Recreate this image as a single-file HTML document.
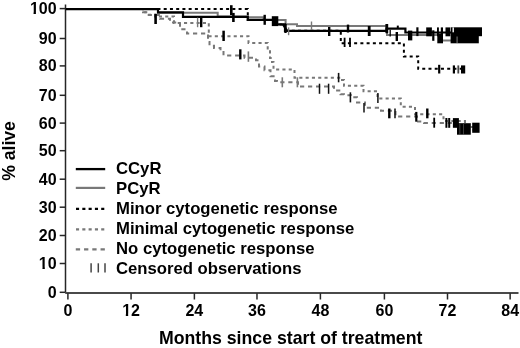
<!DOCTYPE html>
<html><head><meta charset="utf-8"><style>
html,body{margin:0;padding:0;background:#fff;width:520px;height:348px;overflow:hidden}
svg{display:block;will-change:transform}
</style></head><body>
<svg width="520" height="348" viewBox="0 0 520 348">
<rect width="520" height="348" fill="#fff"/>
<path d="M65.5,4.6 V292.6" stroke="#262626" stroke-width="1.5" fill="none"/>
<path d="M65.2,292.95 H518.5" stroke="#4a4a4a" stroke-width="2" fill="none"/>
<path d="M59.7,292.30 H65.4" stroke="#262626" stroke-width="1.5"/>
<text x="56.6" y="297.80" text-anchor="end" font-family='"Liberation Sans", sans-serif' font-weight="bold" font-size="16" fill="#000">0</text>
<path d="M59.7,263.50 H65.4" stroke="#262626" stroke-width="1.5"/>
<text x="56.6" y="269.00" text-anchor="end" font-family='"Liberation Sans", sans-serif' font-weight="bold" font-size="16" fill="#000">10</text>
<path d="M59.7,235.50 H65.4" stroke="#262626" stroke-width="1.5"/>
<text x="56.6" y="241.00" text-anchor="end" font-family='"Liberation Sans", sans-serif' font-weight="bold" font-size="16" fill="#000">20</text>
<path d="M59.7,207.20 H65.4" stroke="#262626" stroke-width="1.5"/>
<text x="56.6" y="212.70" text-anchor="end" font-family='"Liberation Sans", sans-serif' font-weight="bold" font-size="16" fill="#000">30</text>
<path d="M59.7,179.20 H65.4" stroke="#262626" stroke-width="1.5"/>
<text x="56.6" y="184.70" text-anchor="end" font-family='"Liberation Sans", sans-serif' font-weight="bold" font-size="16" fill="#000">40</text>
<path d="M59.7,150.70 H65.4" stroke="#262626" stroke-width="1.5"/>
<text x="56.6" y="156.20" text-anchor="end" font-family='"Liberation Sans", sans-serif' font-weight="bold" font-size="16" fill="#000">50</text>
<path d="M59.7,123.10 H65.4" stroke="#262626" stroke-width="1.5"/>
<text x="56.6" y="128.60" text-anchor="end" font-family='"Liberation Sans", sans-serif' font-weight="bold" font-size="16" fill="#000">60</text>
<path d="M59.7,95.30 H65.4" stroke="#262626" stroke-width="1.5"/>
<text x="56.6" y="100.80" text-anchor="end" font-family='"Liberation Sans", sans-serif' font-weight="bold" font-size="16" fill="#000">70</text>
<path d="M59.7,65.90 H65.4" stroke="#262626" stroke-width="1.5"/>
<text x="56.6" y="71.40" text-anchor="end" font-family='"Liberation Sans", sans-serif' font-weight="bold" font-size="16" fill="#000">80</text>
<path d="M59.7,38.50 H65.4" stroke="#262626" stroke-width="1.5"/>
<text x="56.6" y="44.00" text-anchor="end" font-family='"Liberation Sans", sans-serif' font-weight="bold" font-size="16" fill="#000">90</text>
<path d="M59.7,8.60 H65.4" stroke="#262626" stroke-width="1.5"/>
<text x="56.6" y="14.10" text-anchor="end" font-family='"Liberation Sans", sans-serif' font-weight="bold" font-size="16" fill="#000">100</text>
<path d="M67.90,293.2 V299.5" stroke="#262626" stroke-width="1.5"/>
<text x="67.90" y="315.9" text-anchor="middle" font-family='"Liberation Sans", sans-serif' font-weight="bold" font-size="16" fill="#000">0</text>
<path d="M131.06,293.2 V299.5" stroke="#262626" stroke-width="1.5"/>
<text x="131.06" y="315.9" text-anchor="middle" font-family='"Liberation Sans", sans-serif' font-weight="bold" font-size="16" fill="#000">12</text>
<path d="M194.38,293.2 V299.5" stroke="#262626" stroke-width="1.5"/>
<text x="194.38" y="315.9" text-anchor="middle" font-family='"Liberation Sans", sans-serif' font-weight="bold" font-size="16" fill="#000">24</text>
<path d="M256.98,293.2 V299.5" stroke="#262626" stroke-width="1.5"/>
<text x="256.98" y="315.9" text-anchor="middle" font-family='"Liberation Sans", sans-serif' font-weight="bold" font-size="16" fill="#000">36</text>
<path d="M320.40,293.2 V299.5" stroke="#262626" stroke-width="1.5"/>
<text x="320.40" y="315.9" text-anchor="middle" font-family='"Liberation Sans", sans-serif' font-weight="bold" font-size="16" fill="#000">48</text>
<path d="M384.40,293.2 V299.5" stroke="#262626" stroke-width="1.5"/>
<text x="384.40" y="315.9" text-anchor="middle" font-family='"Liberation Sans", sans-serif' font-weight="bold" font-size="16" fill="#000">60</text>
<path d="M447.50,293.2 V299.5" stroke="#262626" stroke-width="1.5"/>
<text x="447.50" y="315.9" text-anchor="middle" font-family='"Liberation Sans", sans-serif' font-weight="bold" font-size="16" fill="#000">72</text>
<path d="M510.14,293.2 V299.5" stroke="#262626" stroke-width="1.5"/>
<text x="510.14" y="315.9" text-anchor="middle" font-family='"Liberation Sans", sans-serif' font-weight="bold" font-size="16" fill="#000">84</text>
<text x="159" y="344.2" font-family='"Liberation Sans", sans-serif' font-weight="bold" font-size="17.7" fill="#000">Months since start of treatment</text>
<text transform="translate(14.8,151) rotate(-90)" text-anchor="middle" font-family='"Liberation Sans", sans-serif' font-weight="bold" font-size="17.6" fill="#000">% alive</text>
<path d="M65.5,9.1 H143 V12.3 H147.5 V14.9 H160 V18.7 H170 V22.6 H180 V29.3 H187 V33.6 H208 V42 H209.5 V45.7 H214 V48 H220.5 V51 H223.5 V55.5 H244.5 V57.8 H256 V60.3 H259 V66.6 H264.5 V70.2 H270.5 V76.2 H275 V80.9 H277 V82.3 H298 V86.6 H334 V90.5 H340.5 V94.3 H344 V95.2 H351 V97.3 H357 V102.5 H365 V107.8 H381 V110.8 H395.5 V116.5 H417 V121.5 H424 V122.9 H452 V125 H460 V130 H478" stroke="#787878" stroke-width="2" fill="none" stroke-dasharray="4.2 3.8"/>
<path d="M65.5,9.1 H143 V12.3 H147.5 V14.7 H155 V16.5 H174 V22.9 H208.8 V36.2 H248.5 V42.9 H267.7 V50 H270 V58 H272 V62 H273.5 V69.4 H294.5 V77.7 H342 V80.1 H344 V85.8 H363.5 V91.3 H377.5 V98.5 H400.8 V106.7 H415 V114.3 H443.5 V121 H465 V127 H478" stroke="#787878" stroke-width="2" fill="none" stroke-dasharray="3.1 3.2"/>
<path d="M65.5,9.1 H158 V12.8 H217.7 V16.5 H248 V17.3 H263.6 V20.1 H285.6 V24.3 H297 V26.1 H387 V35.1 H440 V40.5 H478" stroke="#787878" stroke-width="2" fill="none"/>
<path d="M65.5,9.1 H247.8 V19.9 H275 V24.4 H285 V30.8 H340.8 V43.3 H403.9 V56.4 H418.2 V68.8 H465.8" stroke="#000" stroke-width="2" fill="none" stroke-dasharray="3.0 3.24" stroke-dashoffset="1.64"/>
<path d="M65.5,9.1 H158 V12.4 H183 V16.85 H247.8 V19.9 H275 V24.4 H285 V30.8 H386.5 V28.7 H405.4 V32.5 H482" stroke="#000" stroke-width="2.2" fill="none"/>
<path d="M282.8,24.2 L287.2,31" stroke="#000" stroke-width="2.2"/>
<path d="M155.6,13.8 V24" stroke="#000" stroke-width="2.6"/>
<path d="M197.6,17.6 V27.2" stroke="#787878" stroke-width="1.4"/>
<path d="M201.2,17.6 V27.2" stroke="#000" stroke-width="2.4"/>
<path d="M223.6,30.7 V41" stroke="#000" stroke-width="2.5"/>
<path d="M231.3,5.2 V15" stroke="#000" stroke-width="2.6"/>
<path d="M233.4,12.9 V22" stroke="#000" stroke-width="2.6"/>
<path d="M240.3,49.3 V59.4" stroke="#000" stroke-width="2.4"/>
<path d="M248.4,51.4 V61.8" stroke="#787878" stroke-width="1.6"/>
<path d="M264.7,14.8 V24.8" stroke="#000" stroke-width="2.4"/>
<path d="M285.5,24.0 V33.0" stroke="#000" stroke-width="2.4"/>
<path d="M288.6,27.4 V35.2" stroke="#787878" stroke-width="1.4"/>
<path d="M282.3,77.3 V87.3" stroke="#787878" stroke-width="1.6"/>
<path d="M297.4,77.3 V87.3" stroke="#787878" stroke-width="1.6"/>
<path d="M311.5,21.5 V30" stroke="#787878" stroke-width="1.4"/>
<path d="M319.5,83.7 V93.8" stroke="#111" stroke-width="1.5"/>
<path d="M328.6,83.7 V93.8" stroke="#111" stroke-width="1.5"/>
<path d="M329.2,27 V36" stroke="#000" stroke-width="2.4"/>
<path d="M338.6,72.9 V82.3" stroke="#111" stroke-width="1.6"/>
<path d="M344.6,37.7 V47" stroke="#000" stroke-width="1.8"/>
<path d="M350,37.7 V47" stroke="#000" stroke-width="1.8"/>
<path d="M348,24.6 V32.5" stroke="#000" stroke-width="2.4"/>
<path d="M350.4,92.3 V102.4" stroke="#111" stroke-width="1.6"/>
<path d="M364,103 V112.4" stroke="#111" stroke-width="1.5"/>
<path d="M369.2,26 V36" stroke="#000" stroke-width="2.8"/>
<path d="M377.9,93 V103" stroke="#111" stroke-width="1.5"/>
<path d="M386.8,24 V33.2" stroke="#000" stroke-width="2.8"/>
<path d="M389.3,108.5 V118.3" stroke="#000" stroke-width="2.4"/>
<path d="M395,108.5 V118.3" stroke="#111" stroke-width="1.5"/>
<path d="M390.2,29.7 V36.5" stroke="#000" stroke-width="1.3"/>
<path d="M396.8,32 V41" stroke="#000" stroke-width="2.4"/>
<path d="M397.8,25.6 V29" stroke="#000" stroke-width="2.0"/>
<path d="M416.3,111.9 V121.7" stroke="#000" stroke-width="2.2"/>
<path d="M417.4,27.3 V36.1" stroke="#000" stroke-width="2.2"/>
<path d="M427.3,108.5 V118.3" stroke="#000" stroke-width="2.4"/>
<path d="M434.2,117.7 V127.7" stroke="#000" stroke-width="1.8"/>
<path d="M439.2,64.8 V73.5" stroke="#000" stroke-width="2.2"/>
<path d="M446.4,118 V127.8" stroke="#000" stroke-width="2.0"/>
<path d="M449.2,118 V127.8" stroke="#000" stroke-width="2.0"/>
<path d="M453.9,65.4 V73.5" stroke="#000" stroke-width="2.2"/>
<path d="M458.3,65.4 V73.5" stroke="#444" stroke-width="1.8"/>
<rect x="271.8" y="16.2" width="6.50" height="9.90" fill="#000"/>
<rect x="408.0" y="30.6" width="4.30" height="9.80" fill="#000"/>
<rect x="426.2" y="27.4" width="5.70" height="8.90" fill="#000"/>
<rect x="432.2" y="30.3" width="2.20" height="10.50" fill="#000"/>
<rect x="437.0" y="27.4" width="1.90" height="8.90" fill="#000"/>
<rect x="440.8" y="27.4" width="2.20" height="8.90" fill="#000"/>
<rect x="437.3" y="33.5" width="5.70" height="9.80" fill="#000"/>
<rect x="445.5" y="27.4" width="4.50" height="8.90" fill="#000"/>
<rect x="450.6" y="27.3" width="31.40" height="8.90" fill="#000"/>
<rect x="450.6" y="33.0" width="28.20" height="10.30" fill="#000"/>
<rect x="452.9" y="118.1" width="6.00" height="9.70" fill="#000"/>
<rect x="457.0" y="123.2" width="13.80" height="11.50" fill="#000"/>
<rect x="472.2" y="122.7" width="7.40" height="10.10" fill="#000"/>
<rect x="461.0" y="65.4" width="4.20" height="8.10" fill="#000"/>
<text x="116" y="173.60" font-family='"Liberation Sans", sans-serif' font-weight="bold" font-size="16.7" fill="#000">CCyR</text>
<text x="116" y="193.74" font-family='"Liberation Sans", sans-serif' font-weight="bold" font-size="16.7" fill="#000">PCyR</text>
<text x="116" y="213.88" font-family='"Liberation Sans", sans-serif' font-weight="bold" font-size="16.7" fill="#000">Minor cytogenetic response</text>
<text x="116" y="234.02" font-family='"Liberation Sans", sans-serif' font-weight="bold" font-size="16.7" fill="#000">Minimal cytogenetic response</text>
<text x="116" y="254.16" font-family='"Liberation Sans", sans-serif' font-weight="bold" font-size="16.7" fill="#000">No cytogenetic response</text>
<text x="116" y="274.30" font-family='"Liberation Sans", sans-serif' font-weight="bold" font-size="16.7" fill="#000">Censored observations</text>
<path d="M75.8,169.1 H105.2" stroke="#000" stroke-width="2.3"/>
<path d="M75.8,187.9 H105.2" stroke="#787878" stroke-width="2.2"/>
<path d="M76,208.9 H105.2" stroke="#000" stroke-width="2.2" stroke-dasharray="3.1 3.2"/>
<path d="M76,229.4 H105.2" stroke="#787878" stroke-width="2.2" stroke-dasharray="3.1 3.2"/>
<path d="M75.8,249.4 H105.2" stroke="#787878" stroke-width="2.2" stroke-dasharray="4.3 3.95"/>
<path d="M91.1,263.3 V272.5" stroke="#444" stroke-width="1.5"/>
<path d="M98.3,263.3 V272.5" stroke="#444" stroke-width="1.5"/>
<path d="M105,263.3 V272.5" stroke="#444" stroke-width="1.5"/>
<rect x="38.90" y="266.90" width="3.55" height="2.6" fill="#fff"/>
<rect x="44.82" y="266.90" width="2.95" height="2.6" fill="#fff"/>
<rect x="30.00" y="12.00" width="3.55" height="2.6" fill="#fff"/>
<rect x="35.92" y="12.00" width="2.95" height="2.6" fill="#fff"/>
<rect x="122.26" y="313.80" width="3.55" height="2.6" fill="#fff"/>
<rect x="128.18" y="313.80" width="2.95" height="2.6" fill="#fff"/>
<rect x="452.5" y="27.4" width="1.40" height="4.90" fill="#fff"/>
<rect x="456.7" y="36.5" width="0.70" height="6.80" fill="#bbb"/>
<rect x="459.6" y="124" width="0.60" height="10.70" fill="#666"/>
<rect x="463.3" y="124" width="0.60" height="10.70" fill="#666"/>
</svg>
</body></html>
